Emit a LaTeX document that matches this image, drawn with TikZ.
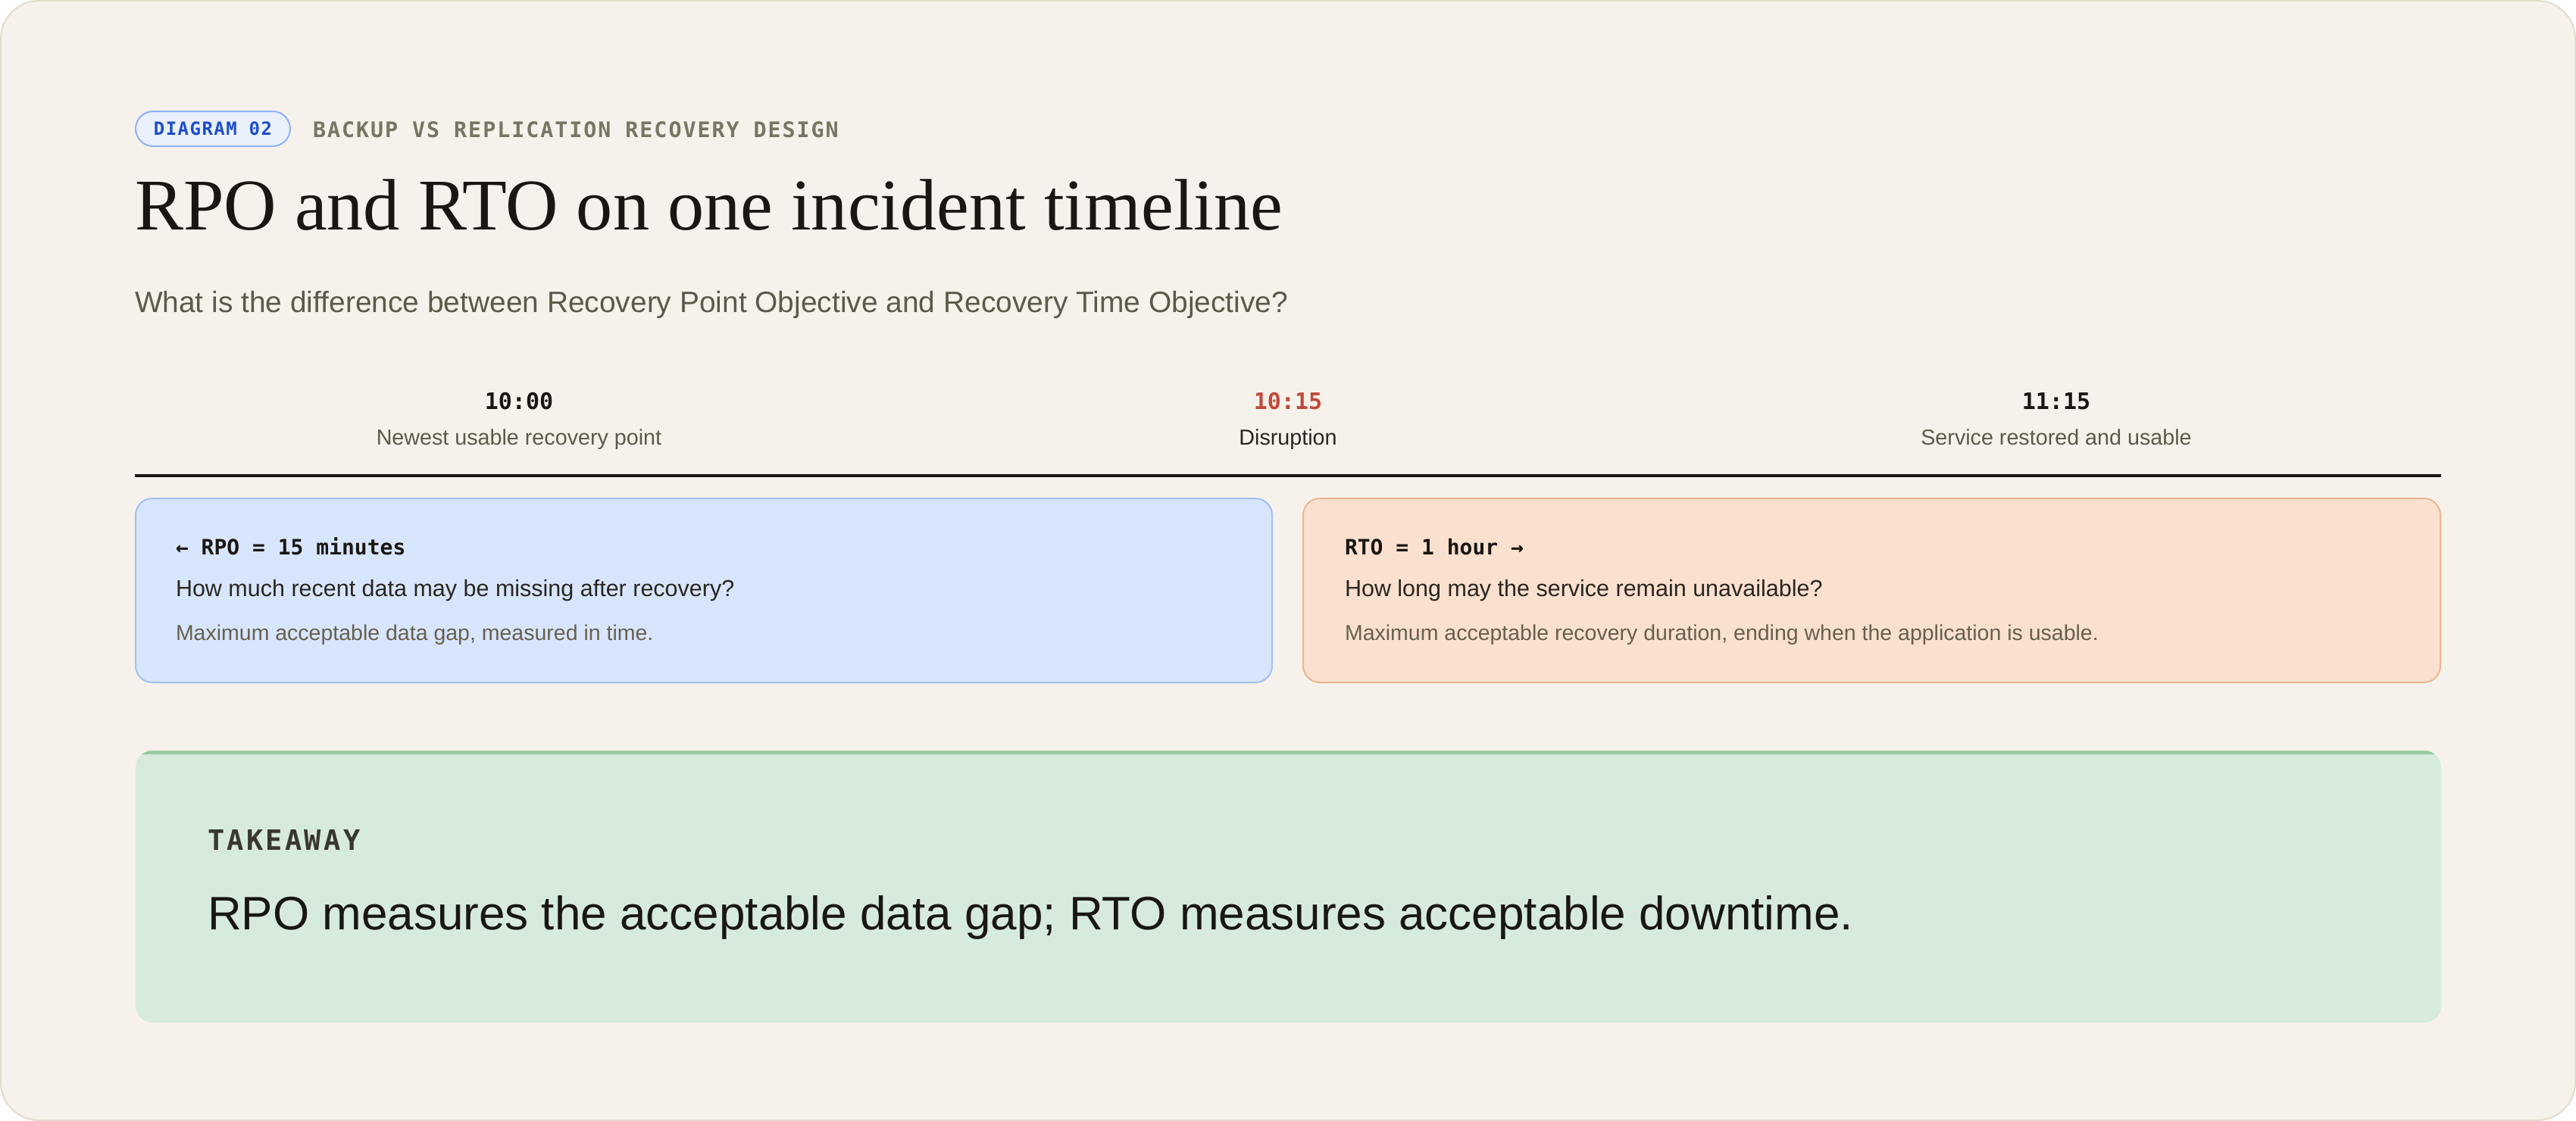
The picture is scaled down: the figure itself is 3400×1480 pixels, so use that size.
\documentclass[tikz,border=0pt]{standalone}
\usepackage{fontspec}
\setmainfont{Liberation Sans}
\newfontfamily\serifface{Liberation Serif}
\newfontfamily\monoface{DejaVu Sans Mono}
\newcommand\fsz[1]{\fontsize{#1}{#1}\selectfont}

\definecolor{cardbg}{HTML}{F6F2EB}
\definecolor{cardline}{HTML}{E3DCCB}
\definecolor{badgebg}{HTML}{EAF0FC}
\definecolor{badgeline}{HTML}{8DB2F7}
\definecolor{badgeink}{HTML}{1D4EC7}
\definecolor{kicker}{HTML}{7A7464}
\definecolor{ink}{HTML}{1A1712}
\definecolor{ink2}{HTML}{2A2620}
\definecolor{muted}{HTML}{5E584B}
\definecolor{alert}{HTML}{C04A3B}
\definecolor{rpofill}{HTML}{D8E6FD}
\definecolor{rpoline}{HTML}{A3C0F2}
\definecolor{rtofill}{HTML}{FAE0CF}
\definecolor{rtoline}{HTML}{EDB590}
\definecolor{notegray}{HTML}{67604F}
\definecolor{takefill}{HTML}{D6EBDC}
\definecolor{takeline}{HTML}{98CBA3}
\definecolor{takelabel}{HTML}{3A372E}

\begin{document}
\begin{tikzpicture}[x=1pt, y=-1pt,
  every node/.style={inner sep=0pt, outer sep=0pt, anchor=base west},
  stamp/.style={anchor=base, font=\monoface\bfseries\fsz{30}},
  stamplabel/.style={anchor=base, font=\fsz{28.7}},
  boxhead/.style={text=ink, font=\monoface\bfseries\fsz{28}},
  boxask/.style={text=ink2, font=\fsz{30.5}},
  boxnote/.style={text=notegray, font=\fsz{28.5}},
  panel/.style={line width=2pt, rounded corners=22pt}]
\useasboundingbox (0,0) rectangle (3400,1480);
\fill[white] (0,0) rectangle (3400,1480);
\draw[cardline, fill=cardbg, line width=2pt, rounded corners=50pt]
	(1,1) rectangle (3399,1479);

% header
\node[anchor=center, draw=badgeline, fill=badgebg, line width=2pt,
	rounded corners=23pt, minimum width=204pt, minimum height=46pt,
	text height=17.5pt, text depth=0pt, text=badgeink,
	font=\monoface\bfseries\addfontfeatures{LetterSpace=6}\fsz{24}]
	(badge) at (281,170) {DIAGRAM 02};
\node[text=kicker, font=\monoface\bfseries\addfontfeatures{LetterSpace=7}\fsz{28.3}]
	(kicker) at (413,181) {BACKUP VS REPLICATION RECOVERY DESIGN};
\node[text=ink, font=\serifface\fsz{96.2}] (title) at (178,303)
	{RPO and RTO on one incident timeline};
\node[text=muted, font=\fsz{38.9}] (question) at (178,412)
	{What is the difference between Recovery Point Objective and Recovery Time Objective?};

% timeline
\foreach \x/\clock/\lbl/\tc/\lc [count=\i] in
	{685/10:00/Newest usable recovery point/ink/muted,
	 1700/10:15/Disruption/alert/ink2,
	 2714/11:15/Service restored and usable/ink/muted}
{
\node[stamp, text=\tc] (time\i) at (\x,540) {\clock};
\node[stamplabel, text=\lc] (event\i) at (\x,587) {\lbl};
}
\coordinate (axis-w) at (178,628);
\coordinate (axis-e) at (3222,628);
\draw[ink, line width=4pt] (axis-w) -- (axis-e);

% RPO and RTO panels
\draw[panel, draw=rpoline, fill=rpofill] (179,658) rectangle (1679,901);
\draw[panel, draw=rtoline, fill=rtofill] (1720,658) rectangle (3221,901);
\node[boxhead] (rpo-head) at (232,732) {← RPO = 15 minutes};
\node[boxask] (rpo-ask) at (232,787) {How much recent data may be missing after recovery?};
\node[boxnote] (rpo-note) at (232,845) {Maximum acceptable data gap, measured in time.};
\node[boxhead] (rto-head) at (1775,732) {RTO = 1 hour →};
\node[boxask] (rto-ask) at (1775,787) {How long may the service remain unavailable?};
\node[boxnote] (rto-note) at (1775,845)
	{Maximum acceptable recovery duration, ending when the application is usable.};

% takeaway
\begin{scope}
\clip[rounded corners=22pt] (179,991) rectangle (3222,1350);
\fill[takefill] (179,991) rectangle (3222,1350);
\fill[takeline] (179,991) rectangle (3222,996);
\end{scope}
\node[text=takelabel, font=\monoface\bfseries\addfontfeatures{LetterSpace=9}\fsz{37}]
	(take-label) at (274,1122) {TAKEAWAY};
\node[text=ink, font=\fsz{62}] (take-text) at (274,1227)
	{RPO measures the acceptable data gap; RTO measures acceptable downtime.};
\end{tikzpicture}
\end{document}
